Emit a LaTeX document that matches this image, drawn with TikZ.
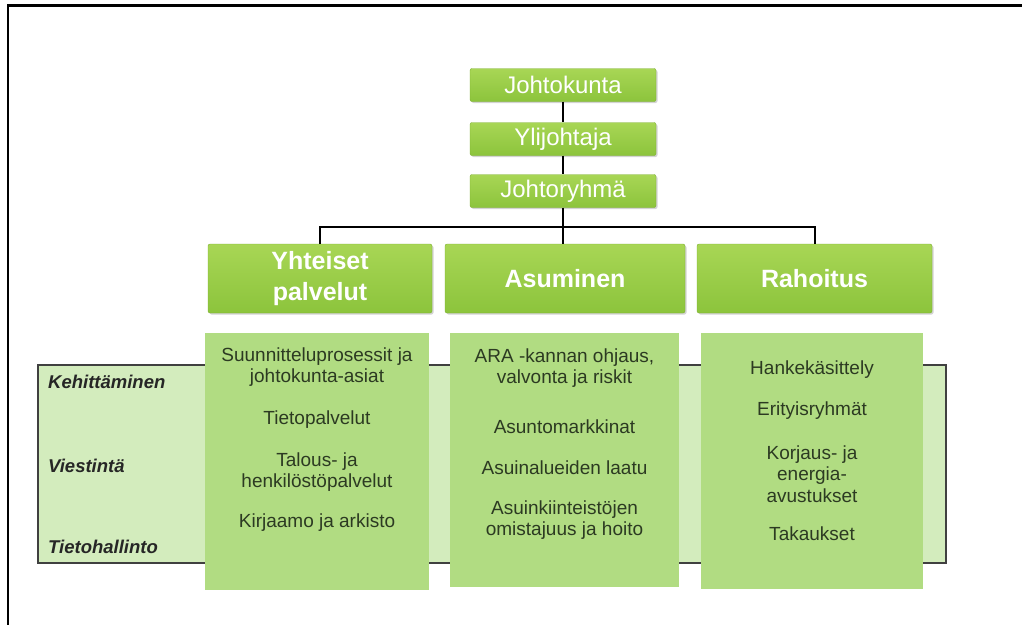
\documentclass[tikz,border=0pt]{standalone}
\usepackage{fontspec}
\setmainfont{Liberation Sans}
\usetikzlibrary{positioning,shadows}
\definecolor{hdtop}{HTML}{A8D655}
\definecolor{hdbot}{HTML}{8CC43C}
\definecolor{hdline}{HTML}{7DAF30}
\definecolor{cellfill}{HTML}{B1DC82}
\definecolor{stripfill}{HTML}{D3ECBD}
\definecolor{itemtext}{HTML}{2C3A22}

\begin{document}
\begin{tikzpicture}[x=1pt, y=-1pt,
    head/.style={rectangle, rounded corners=2pt, draw=hdline, top color=hdtop, bottom color=hdbot, text=white, align=center, inner sep=0pt, drop shadow={shadow xshift=1.5pt, shadow yshift=-1.5pt, opacity=0.35}},
    lead/.style={head, minimum width=186pt, minimum height=33pt, font=\fontsize{24}{28}\selectfont},
    unit/.style={head, minimum height=69pt, font=\bfseries\fontsize{25}{31}\selectfont},
    cell/.style={rectangle, fill=cellfill, inner sep=0pt},
    item/.style={align=center, text=itemtext, inner sep=0pt, font=\fontsize{19}{21.5}\selectfont},
    area/.style={anchor=west, inner sep=0pt, text=black!85, font=\bfseries\itshape\fontsize{18.5}{22}\selectfont},
    link/.style={line width=2pt}
]
    \useasboundingbox (0,0) rectangle (1022,625);
    \draw[line width=3pt] (7,5) -- (1022,5);
    \draw[line width=1.5pt] (8,5) -- (8,625);

    % management
    \node[lead] (jk) at (563,85) {Johtokunta};
    \node[lead] (yj) at (563,139) {Ylijohtaja};
    \node[lead] (jr) at (563,191) {Johtoryhmä};

    % units
    \node[unit, minimum width=224pt] (yp) at (320,278.5) {Yhteiset\\palvelut};
    \node[unit, minimum width=240pt] (as) at (565,278.5) {Asuminen};
    \node[unit, minimum width=235pt] (ra) at (814.5,278.5) {Rahoitus};

    \coordinate (bus) at (563,227);
    \draw[link] (jk) -- (yj);
    \draw[link] (yj) -- (jr);
    \draw[link] (jr) -- (bus);
    \draw[link] (yp.north) |- (bus) -| (ra.north);
    \draw[link] (bus) -- (bus |- as.north);

    % common functions strip
    \node[draw=black!75, line width=1.2pt, fill=stripfill, minimum width=908pt, minimum height=198pt, inner sep=0pt] (strip) at (492,464) {};
    \node[area] (kh) at (48,382) {Kehittäminen};
    \node[area] (vi) at (48,466) {Viestintä};
    \node[area] (th) at (48,547) {Tietohallinto};

    \node[cell, minimum width=224pt, minimum height=257pt] (c1) at (317,461.5) {};
    \node[cell, minimum width=229pt, minimum height=254pt] (c2) at (564.5,460) {};
    \node[cell, minimum width=222pt, minimum height=256pt] (c3) at (812,461) {};

    \node[item] (yp1) at (317,367) {Suunnitteluprosessit ja\\johtokunta-asiat};
    \node[item] (yp2) at (317,420) {Tietopalvelut};
    \node[item] (yp3) at (317,472) {Talous- ja\\henkilöstöpalvelut};
    \node[item] (yp4) at (317,523) {Kirjaamo ja arkisto};

    \node[item] (as1) at (564.5,368) {ARA -kannan ohjaus,\\valvonta ja riskit};
    \node[item] (as2) at (564.5,427) {Asuntomarkkinat};
    \node[item] (as3) at (564.5,468) {Asuinalueiden laatu};
    \node[item] (as4) at (564.5,520) {Asuinkiinteistöjen\\omistajuus ja hoito};

    \node[item] (ra1) at (812,370) {Hankekäsittely};
    \node[item] (ra2) at (812,411) {Erityisryhmät};
    \node[item] (ra3) at (812,474) {Korjaus- ja\\energia-\\avustukset};
    \node[item] (ra4) at (812,534) {Takaukset};
\end{tikzpicture}
\end{document}
